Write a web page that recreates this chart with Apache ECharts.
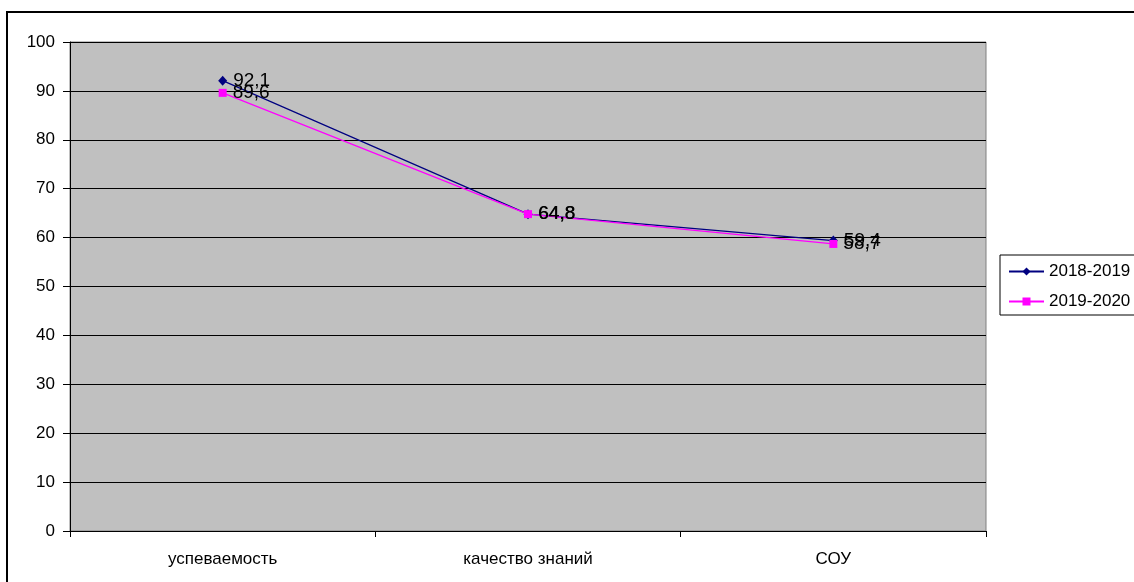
<!DOCTYPE html>
<html>
<head>
<meta charset="utf-8">
<script src="https://cdn.jsdelivr.net/npm/echarts@6/dist/echarts.min.js"></script>
<style>
  html, body { margin: 0; padding: 0; background: #fff; }
  #chart { width: 1134px; height: 582px; }
</style>
</head>
<body>
<div id="chart"></div>
<script>
// Categories and values for each school year
const categories = ['успеваемость', 'качество знаний', 'СОУ'];
const seriesNames = ['2018-2019', '2019-2020'];
const values2018 = [92.1, 64.8, 59.4];
const values2019 = [89.6, 64.8, 58.7];

const FONT = '"Liberation Sans", Arial, sans-serif';
const fmt = p => String(p.value).replace('.', ',');

const chart = echarts.init(document.getElementById('chart'), null, { renderer: 'canvas' });

chart.setOption({
  animation: false,
  backgroundColor: '#ffffff',
  textStyle: { fontFamily: FONT },
  graphic: [{
    type: 'rect',
    shape: { x: 7, y: 12, width: 1300, height: 700 },
    style: { fill: 'none', stroke: '#000', lineWidth: 2 },
    silent: true
  }],
  grid: {
    left: 70, top: 42, width: 916, height: 489,
    show: true,
    backgroundColor: '#C0C0C0',
    borderColor: '#808080',
    borderWidth: 1
  },
  legend: {
    orient: 'vertical',
    left: 1000, top: 255,
    padding: [8, 30, 5, 8],
    itemWidth: 35, itemHeight: 10, itemGap: 13,
    borderColor: '#000', borderWidth: 1,
    backgroundColor: '#fff',
    textStyle: { fontFamily: FONT, fontSize: 17, color: '#000' },
    data: seriesNames
  },
  xAxis: {
    type: 'category',
    data: categories,
    boundaryGap: true,
    axisLine: { lineStyle: { color: '#000', width: 1 } },
    axisTick: { show: true, length: 6, alignWithLabel: false, lineStyle: { color: '#000' } },
    axisLabel: { color: '#000', fontSize: 17, fontFamily: FONT, margin: 20 },
    splitLine: { show: false }
  },
  yAxis: {
    type: 'value',
    min: 0, max: 100, interval: 10,
    axisLine: { show: true, lineStyle: { color: '#000', width: 1 } },
    axisTick: { show: true, length: 7, lineStyle: { color: '#000' } },
    axisLabel: { color: '#000', fontSize: 17, fontFamily: FONT, margin: 15 },
    splitLine: { show: true, lineStyle: { color: '#000', width: 1 } }
  },
  series: [
    {
      name: seriesNames[0],
      type: 'line',
      data: values2018,
      symbol: 'diamond',
      symbolSize: [9, 10],
      lineStyle: { color: '#000080', width: 1.2 },
      itemStyle: { color: '#000080' },
      label: { show: true, position: 'right', distance: 6, color: '#000', fontSize: 19, fontFamily: FONT, formatter: fmt }
    },
    {
      name: seriesNames[1],
      type: 'line',
      data: values2019,
      symbol: 'rect',
      symbolSize: 8,
      lineStyle: { color: '#FF00FF', width: 1.2 },
      itemStyle: { color: '#FF00FF' },
      label: { show: true, position: 'right', distance: 6, color: '#000', fontSize: 19, fontFamily: FONT, formatter: fmt }
    }
  ]
});
</script>
</body>
</html>
